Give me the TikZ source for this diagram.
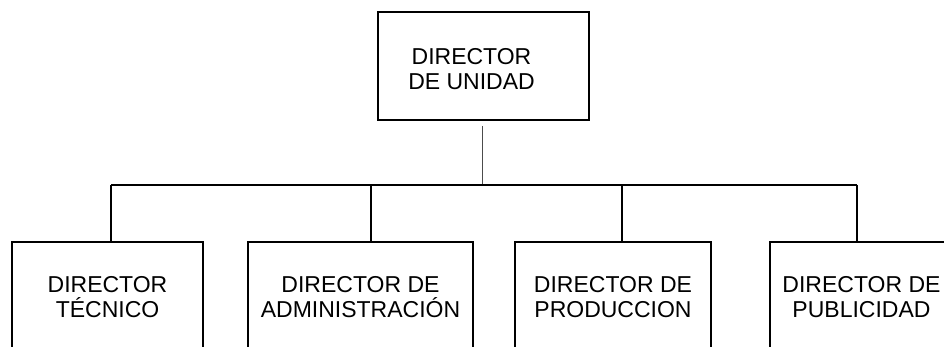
\documentclass[tikz,border=0pt]{standalone}
\usepackage{fontspec}
\setmainfont{Liberation Sans}
\begin{document}
\begin{tikzpicture}[x=1pt,y=-1pt,
  orgbox/.style={draw=black, line width=2pt, rectangle, inner sep=0pt, align=center,
    font=\fontsize{23}{25.5}\selectfont},
  orgtext/.style={inner sep=0pt, align=center, font=\fontsize{23}{25.5}\selectfont},
  bus/.style={draw=black, line width=2pt},
  thinline/.style={draw=black!70, line width=1pt}]
\useasboundingbox (0,0) rectangle (944,347);
\clip (0,0) rectangle (944,347);
\node[orgbox, minimum width=211pt, minimum height=108pt] (top) at (483.5,66) {};
\node[orgtext] (toptext) at (471.5,69) {DIRECTOR\\DE UNIDAD};
\node[orgbox, minimum width=191pt, minimum height=110pt] (b1) at (107.5,297) {DIRECTOR\\TÉCNICO};
\node[orgbox, minimum width=225pt, minimum height=110pt] (b2) at (360.5,297) {DIRECTOR DE\\ADMINISTRACIÓN};
\node[orgbox, minimum width=196pt, minimum height=110pt] (b3) at (613,297) {DIRECTOR DE\\PRODUCCION};
\node[orgbox, minimum width=183pt, minimum height=110pt] (b4) at (861.5,297) {DIRECTOR DE\\PUBLICIDAD};
\coordinate (hub) at (482,185);
\coordinate (d1) at (111,185);
\coordinate (d2) at (371,185);
\coordinate (d3) at (622,185);
\coordinate (d4) at (857,185);
\draw[thinline] ([yshift=-5pt]top.south -| hub) -- (hub);
\draw[bus] (d1) -- (d4);
\draw[bus] (d1) -- (d1 |- b1.north);
\draw[bus] (d2) -- (d2 |- b2.north);
\draw[bus] (d3) -- (d3 |- b3.north);
\draw[bus] (d4) -- (d4 |- b4.north);
\end{tikzpicture}
\end{document}
